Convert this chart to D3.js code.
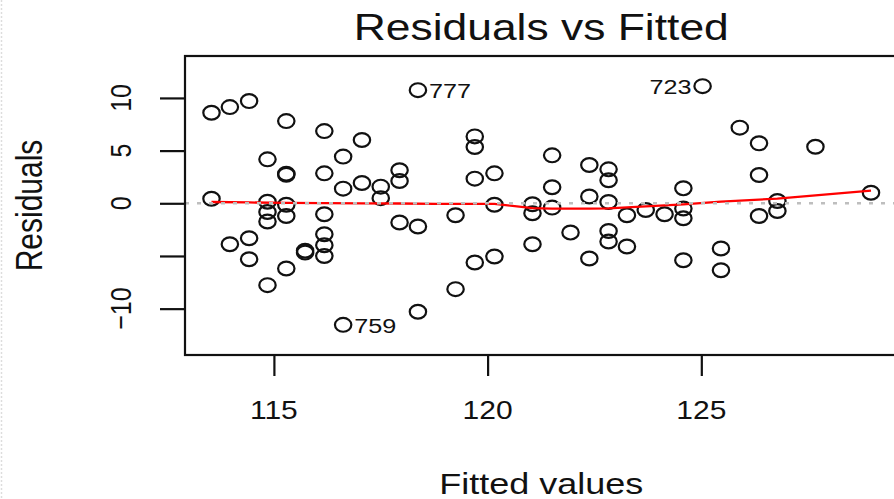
<!DOCTYPE html>
<html>
<head>
<meta charset="utf-8">
<script src="https://cdn.jsdelivr.net/npm/d3@7"></script>
<style>
  html, body { margin: 0; padding: 0; background: #fff; }
  svg { display: block; }
  text { font-family: "Liberation Sans", Arial, sans-serif; fill: #111; }
</style>
</head>
<body>
<svg id="chart" width="894" height="499"></svg>
<script>
// Fitted values of the linear model (x) and their residuals (y)
const fittedValues = [
  113.54, 113.54,
  113.97, 113.97,
  114.42, 114.42, 114.42,
  114.85, 114.85, 114.85, 114.85, 114.85,
  115.29, 115.29, 115.29, 115.29, 115.29, 115.29,
  115.73, 115.73,
  116.18, 116.18, 116.18, 116.18, 116.18, 116.18,
  116.62, 116.62, 116.62,
  117.06, 117.06,
  117.50, 117.50,
  117.94, 117.94, 117.94,
  118.37, 118.37, 118.37,
  119.25, 119.25,
  119.70, 119.70, 119.70, 119.70,
  120.16, 120.16, 120.16,
  121.05, 121.05, 121.05,
  121.51, 121.51, 121.51,
  121.94,
  122.38, 122.38, 122.38,
  122.83, 122.83, 122.83, 122.83, 122.83,
  123.26, 123.26,
  123.70,
  124.14,
  124.58, 124.58, 124.58, 124.58,
  125.03,
  125.46, 125.46,
  125.90,
  126.35, 126.35, 126.35,
  126.78, 126.78,
  127.67,
  128.97
];
const residualValues = [
  8.60, 0.43,
  9.13, -3.89,
  9.70, -3.32, -5.31,
  4.17, 0.14, -0.82, -1.73, -7.77,
  7.80, 2.80, 2.70, -0.14, -1.20, -6.19,
  -4.50, -4.68,
  6.85, 2.84, -1.04, -2.94, -3.98, -5.00,
  4.43, 1.39, -11.54,
  6.00, 1.92,
  1.58, 0.49,
  3.13, 2.11, -1.83,
  10.74, -2.21, -10.30,
  -1.14, -8.15,
  6.35, 5.34, 2.34, -5.62,
  2.84, -0.14, -5.05,
  -0.09, -0.95, -3.89,
  4.55, 1.52, -0.41,
  -2.78,
  3.63, 0.64, -5.24,
  3.22, 2.18, 0.12, -2.63, -3.63,
  -1.14, -4.10,
  -0.64,
  -1.04,
  1.42, -0.50, -1.42, -5.40,
  11.12,
  -4.29, -6.35,
  7.18,
  5.69, 2.68, -1.20,
  0.22, -0.73,
  5.37,
  1.00
];

// Observations flagged with their row names
const idNames = ["777", "723", "759"];
const idIndex = [36, 71, 28];

// Lowess smoother through the residuals
const smoothFitted = [113.54, 114.42, 115.29, 116.18, 117.06, 117.94, 118.80, 119.70, 120.16,
                      121.05, 121.51, 122.38, 122.83, 123.70, 124.58, 125.46, 126.35, 126.78, 127.67, 128.97];
const smoothResid  = [0.12, 0.08, 0.03, 0.02, 0.00, -0.02, -0.05, -0.05, -0.05,
                      -0.45, -0.50, -0.50, -0.48, -0.30, -0.10, 0.15, 0.35, 0.45, 0.75, 1.20];

const xTicks = [115, 120, 125];
const yTicks = [-10, -5, 0, 5, 10];
const yTickLabels = ["\u221210", "", "0", "5", "10"];

const svg = d3.select("#chart");
const W = 894, H = 499;
const plot = { left: 185, top: 56, right: 897.5, bottom: 355 };
const sx = 1.2; // horizontal text stretch

const x = d3.scaleLinear().domain([112.92, 129.59]).range([plot.left, plot.right]);
const y = d3.scaleLinear().domain([-14.4, 13.98]).range([plot.bottom, plot.top]);

// faint dotted edge on the left
svg.append("line")
  .attr("x1", 1.5).attr("x2", 1.5).attr("y1", 0).attr("y2", H)
  .attr("stroke", "#ddd").attr("stroke-width", 1.5).attr("stroke-dasharray", "2 2");

// points
const g = svg.append("g");
g.selectAll("ellipse.pt")
  .data(d3.range(fittedValues.length))
  .join("ellipse")
  .attr("class", "pt")
  .attr("cx", i => x(fittedValues[i]))
  .attr("cy", i => y(residualValues[i]))
  .attr("rx", 8.2)
  .attr("ry", 6.9)
  .attr("fill", "none")
  .attr("stroke", "#111")
  .attr("stroke-width", 2.2);

// smoother
const smoothLine = d3.line().x(d => x(d[0])).y(d => y(d[1]));
g.append("path")
  .datum(d3.zip(smoothFitted, smoothResid))
  .attr("d", smoothLine)
  .attr("fill", "none")
  .attr("stroke", "#ff0000")
  .attr("stroke-width", 2.3);

// zero reference line
g.append("line")
  .attr("x1", plot.left).attr("x2", plot.right)
  .attr("y1", y(0)).attr("y2", y(0))
  .attr("stroke", "#bebebe").attr("stroke-width", 2.5)
  .attr("stroke-dasharray", "4 8");

// labels of flagged observations
idNames.forEach((name, k) => {
  const i = idIndex[k];
  const px = x(fittedValues[i]), py = y(residualValues[i]);
  const right = fittedValues[i] < (112.92 + 129.59) / 2;
  svg.append("text")
    .attr("transform", `translate(${right ? px + 11 : px - 11},${py + 1}) scale(${sx},1)`)
    .attr("text-anchor", right ? "start" : "end")
    .attr("dominant-baseline", "central")
    .attr("font-size", 21)
    .text(name);
});

// box
svg.append("rect")
  .attr("x", plot.left).attr("y", plot.top)
  .attr("width", plot.right - plot.left).attr("height", plot.bottom - plot.top)
  .attr("fill", "none").attr("stroke", "#111").attr("stroke-width", 2.2);

// x axis
const xAxis = svg.append("g").attr("transform", `translate(0,${plot.bottom})`)
  .call(d3.axisBottom(x).tickValues(xTicks).tickSize(21).tickFormat(""));
xAxis.select(".domain").remove();
xAxis.selectAll("line").attr("stroke", "#111").attr("stroke-width", 2.2);
xTicks.forEach(t => {
  svg.append("text")
    .attr("transform", `translate(${x(t)},419) scale(${sx},1)`)
    .attr("text-anchor", "middle")
    .attr("font-size", 25)
    .text(String(t));
});

// y axis
const yAxis = svg.append("g").attr("transform", `translate(${plot.left},0)`)
  .call(d3.axisLeft(y).tickValues(yTicks).tickSize(25).tickFormat(""));
yAxis.select(".domain").remove();
yAxis.selectAll("line").attr("stroke", "#111").attr("stroke-width", 2.2);
yTicks.forEach((t, k) => {
  if (!yTickLabels[k]) return;
  svg.append("text")
    .attr("transform", `translate(131,${y(t)}) scale(${sx},1) rotate(-90)`)
    .attr("text-anchor", "middle")
    .attr("font-size", 25)
    .text(yTickLabels[k]);
});

// titles
svg.append("text")
  .attr("transform", `translate(${(plot.left + plot.right) / 2},40) scale(${sx},1)`)
  .attr("text-anchor", "middle")
  .attr("font-size", 37)
  .text("Residuals vs Fitted");

svg.append("text")
  .attr("transform", `translate(${(plot.left + plot.right) / 2},494) scale(${sx},1)`)
  .attr("text-anchor", "middle")
  .attr("font-size", 30)
  .text("Fitted values");

svg.append("text")
  .attr("transform", `translate(42,${(plot.top + plot.bottom) / 2}) scale(${sx},1) rotate(-90)`)
  .attr("text-anchor", "middle")
  .attr("font-size", 30)
  .text("Residuals");
</script>
</body>
</html>
